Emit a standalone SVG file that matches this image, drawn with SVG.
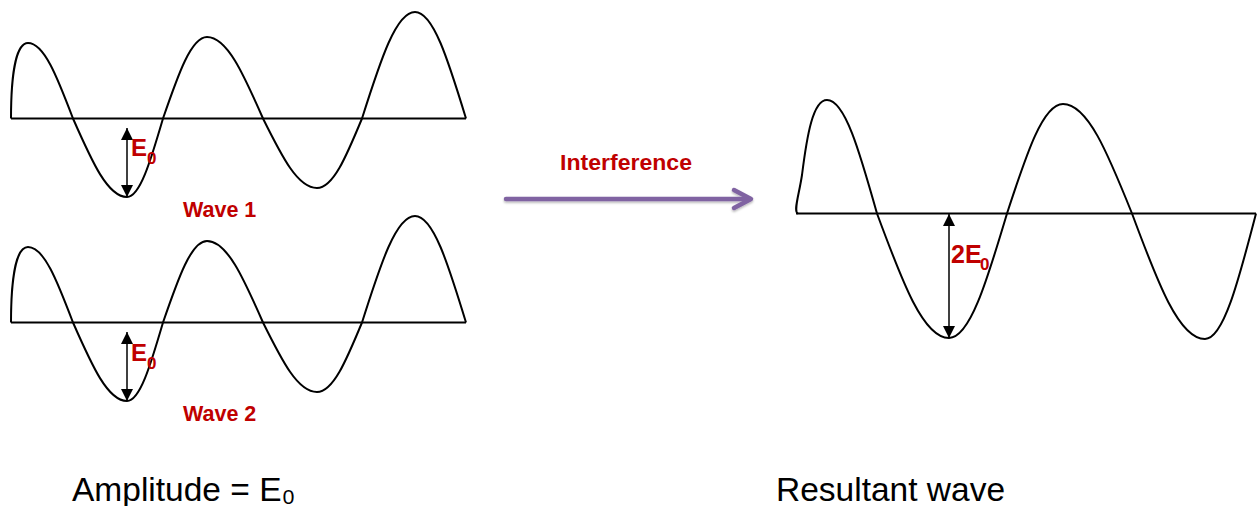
<svg xmlns="http://www.w3.org/2000/svg" width="1257" height="506" viewBox="0 0 1257 506">
  <style>
    .wave { fill: none; stroke: #000; stroke-width: 2; }
    .axis { fill: none; stroke: #000; stroke-width: 2; }
    .dim { stroke: #000; stroke-width: 1.5; marker-start: url(#tri); marker-end: url(#tri); }
    .lbl { font-family: "Liberation Sans", Arial, sans-serif; font-weight: bold; fill: #C00000; }
    .cap { font-family: "Liberation Sans", Arial, sans-serif; fill: #000; }
    .arrow { fill: none; stroke: #8064A2; stroke-width: 4.5; stroke-linecap: round; stroke-linejoin: round; }
  </style>
  <defs>
    <marker id="tri" viewBox="0 0 10 10" refX="10" refY="5" markerWidth="12" markerHeight="13" markerUnits="userSpaceOnUse" orient="auto-start-reverse">
      <path d="M0,0 L10,5 L0,10 z" fill="#000"/>
    </marker>
    <filter id="sh" x="-10%" y="-50%" width="120%" height="200%">
      <feDropShadow dx="0" dy="1.5" stdDeviation="1" flood-color="#000" flood-opacity="0.3"/>
    </filter>
  </defs>

  <g id="wave1">
    <line class="axis" x1="11" y1="118.5" x2="466" y2="118.5"/>
    <path class="wave" d="M11,118.5 C11,75 16,43 28,43 C44,43 57,76.4 73,118.5 C92.2,162.2 107.8,197 127,197 C139.8,197 150.2,162.2 163,118.5 C178.6,73.1 191.4,37 207,37 C226.9,37 243.1,73.1 263,118.5 C282.2,157.2 297.8,188 317,188 C333,188 346,157.2 362,118.5 C380.8,59.2 396.2,12 415,12 C433.1,12 447.9,59.2 466,118.5"/>
    <line class="dim" x1="127" y1="128" x2="127" y2="197"/>
    <text class="lbl" x="131" y="156" font-size="24">E<tspan x="147" y="164" font-size="17">0</tspan></text>
    <text class="lbl" x="183" y="216.5" font-size="21.5">Wave 1</text>
  </g>

  <g id="wave2">
    <g transform="translate(0,204)">
      <line class="axis" x1="11" y1="118.5" x2="466" y2="118.5"/>
      <path class="wave" d="M11,118.5 C11,75 16,43 28,43 C44,43 57,76.4 73,118.5 C92.2,162.2 107.8,197 127,197 C139.8,197 150.2,162.2 163,118.5 C178.6,73.1 191.4,37 207,37 C226.9,37 243.1,73.1 263,118.5 C282.2,157.2 297.8,188 317,188 C333,188 346,157.2 362,118.5 C380.8,59.2 396.2,12 415,12 C433.1,12 447.9,59.2 466,118.5"/>
      <line class="dim" x1="127" y1="128" x2="127" y2="197"/>
      <text class="lbl" x="131" y="157" font-size="24">E<tspan x="147" y="165" font-size="17">0</tspan></text>
    </g>
    <text class="lbl" x="183" y="421" font-size="21.5">Wave 2</text>
  </g>

  <g id="resultant">
    <line class="axis" x1="796" y1="213.5" x2="1256" y2="213.5"/>
    <path class="wave" d="M798,213.5 C793,212 799,195 802,175 C807,135 813,100 827,100 C844.75,100 859.25,150.3 877,213.5 C902.6,282.8 923.4,338 949,338 C969.6,338 986.4,282.8 1007,213.5 C1026.9,152.5 1043.1,104 1063,104 C1087.5,104 1107.5,152.5 1132,213.5 C1157.9,283.4 1179.1,339 1205,339 C1223.1,339 1237.9,283.4 1256,213.5"/>
    <line class="dim" x1="949" y1="214" x2="949" y2="338"/>
    <text class="lbl" x="951" y="263" font-size="25">2E<tspan x="980" y="270" font-size="17">0</tspan></text>
  </g>

  <g id="connectors">
    <g filter="url(#sh)">
      <line class="arrow" x1="506" y1="199" x2="750" y2="199"/>
      <polyline class="arrow" points="734,190 751,199 734,208"/>
    </g>
    <text class="lbl" x="560" y="170" font-size="22.5" textLength="132" lengthAdjust="spacingAndGlyphs">Interference</text>
  </g>

  <g id="captions">
    <text class="cap" x="72" y="501" font-size="33.5">Amplitude = E<tspan>₀</tspan></text>
    <text class="cap" x="776" y="501" font-size="33.5">Resultant wave</text>
  </g>
</svg>
